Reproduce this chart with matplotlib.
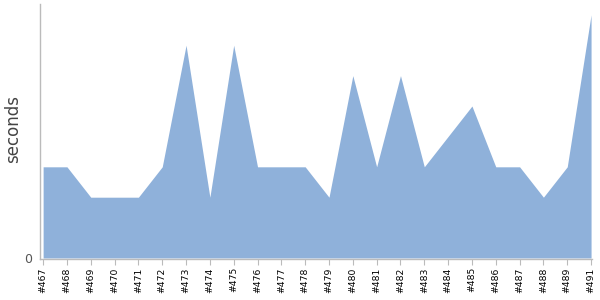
import matplotlib
matplotlib.use("Agg")
import matplotlib.pyplot as plt

builds = ['#467', '#468', '#469', '#470', '#471', '#472', '#473', '#474',
          '#475', '#476', '#477', '#478', '#479', '#480', '#481', '#482',
          '#483', '#484', '#485', '#486', '#487', '#488', '#489', '#491']
seconds = [3, 3, 2, 2, 2, 3, 7, 2, 7, 3, 3, 3, 2, 6, 3, 6, 3, 4, 5, 3, 3, 2, 3, 8]

fig = plt.figure(figsize=(6, 3), dpi=100)
ax = fig.add_axes([0.0667, 0.137, 0.92, 0.85])

x = list(range(len(builds)))
ax.fill_between(x, seconds, 0, color='#8fb1da', linewidth=0)

ax.set_xlim(-0.13, len(builds) - 1 + 0.04)
ax.set_ylim(-0.03, 8.36)

ax.set_xticks(x)
ax.set_xticklabels(builds, rotation=90, fontsize=6.7, color='black')
ax.set_yticks([0])
ax.set_yticklabels(['0'], fontsize=9, color='#555555')
ax.tick_params(axis='x', length=4, color='#bbbbbb', pad=2)
ax.tick_params(axis='y', length=0, pad=6)

for side in ['top', 'right']:
    ax.spines[side].set_visible(False)
for side in ['left', 'bottom']:
    ax.spines[side].set_color('#bbbbbb')
    ax.spines[side].set_linewidth(1)

ax.set_ylabel('seconds', fontsize=12, color='#444444')
ax.yaxis.set_label_coords(-0.032, 0.51)

fig.savefig('out.png', dpi=100)
